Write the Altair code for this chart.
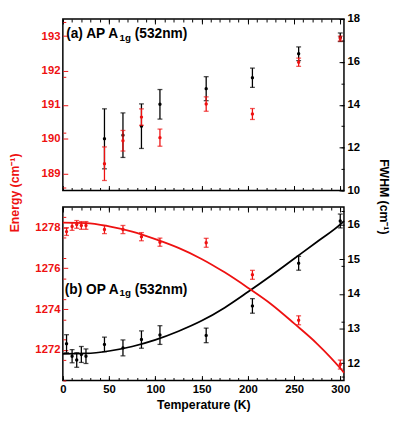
import altair as alt
import pandas as pd

RED = "#ee1111"
BLACK = "#000000"
FONT = "Liberation Sans"

# ---------------- data ----------------
# Panel (a): AP A1g (532nm)
T_a = [45, 65, 85, 105, 155, 205, 255, 300]
E_a = [189.28, 189.95, 190.64, 190.04, 191.02, 190.73, 192.24, 192.93]
E_a_err = [0.49, 0.30, 0.24, 0.25, 0.21, 0.16, 0.12, 0.07]
W_a = [12.41, 12.58, 13.00, 14.02, 14.75, 15.26, 16.38, 17.15]
W_a_err = [1.40, 1.04, 1.04, 0.69, 0.56, 0.45, 0.32, 0.20]

# Panel (b): OP A1g (532nm)
T_b = [4, 10, 15, 20, 25, 45, 65, 85, 105, 155, 205, 255, 300]
E_b = [1277.80, 1278.05, 1278.15, 1278.10, 1278.10, 1277.90, 1277.90,
       1277.55, 1277.28, 1277.25, 1275.68, 1273.45, 1271.28]
E_b_err = [0.19, 0.19, 0.19, 0.19, 0.19, 0.2, 0.2, 0.2, 0.2, 0.22, 0.22, 0.22, 0.22]
W_b = [12.56, 12.20, 12.09, 12.25, 12.20, 12.54, 12.44, 12.68, 12.81,
       12.80, 13.65, 14.88, 16.10]
W_b_err = [0.26, 0.19, 0.21, 0.23, 0.21, 0.21, 0.23, 0.25, 0.27, 0.21, 0.21, 0.20, 0.20]

# fitted curves of panel (b)
T_fit = [0, 25, 50, 75, 100, 125, 150, 175, 200, 225, 250, 275, 300, 304]
E_fit = [1278.24, 1278.22, 1278.06, 1277.80, 1277.43, 1277.00, 1276.46,
         1275.80, 1275.05, 1274.25, 1273.30, 1272.30, 1271.10, 1270.88]
W_fit = [12.27, 12.28, 12.35, 12.48, 12.67, 12.92, 13.22, 13.60, 14.05,
         14.52, 15.01, 15.50, 16.00, 16.10]

X_DOMAIN = [0, 304]
X_MAJOR = [0, 50, 100, 150, 200, 250, 300]
X_MINOR = list(range(0, 305, 10))

A_E_DOMAIN = [188.5, 193.5]
A_E_MAJOR = [189, 190, 191, 192, 193]
A_W_DOMAIN = [10, 18]
A_W_MAJOR = [10, 12, 14, 16, 18]

B_E_DOMAIN = [1270.5, 1279.0]
B_E_MAJOR = [1272, 1274, 1276, 1278]
B_W_DOMAIN = [11.5, 16.5]
B_W_MAJOR = [12, 13, 14, 15, 16]


def steps(lo, hi, step):
    n = int(round((hi - lo) / step))
    return [round(lo + i * step, 3) for i in range(n + 1)]


A_E_MINOR = steps(188.6, 193.4, 0.2)
A_W_MINOR = steps(10, 18, 0.5)
B_E_MINOR = steps(1270.5, 1279.0, 0.5)
B_W_MINOR = steps(11.6, 16.4, 0.2)

XS = alt.Scale(domain=X_DOMAIN, nice=False, zero=False)
LABEL_SIZE = 11.5


def ys(dom):
    return alt.Scale(domain=dom, nice=False, zero=False)


def xenc():
    return alt.X("T:Q", scale=XS, axis=None)


def err_layers(T, V, Verr, dom, color):
    df = pd.DataFrame({"T": T, "v": V,
                       "lo": [a - b for a, b in zip(V, Verr)],
                       "hi": [a + b for a, b in zip(V, Verr)]})
    base = alt.Chart(df)
    rule = base.mark_rule(color=color, strokeWidth=1.3).encode(
        x=xenc(), y=alt.Y("lo:Q", scale=ys(dom), axis=None), y2="hi:Q")
    caplo = base.mark_tick(color=color, orient="horizontal", size=5, thickness=1.3).encode(
        x=xenc(), y=alt.Y("lo:Q", scale=ys(dom), axis=None))
    caphi = base.mark_tick(color=color, orient="horizontal", size=5, thickness=1.3).encode(
        x=xenc(), y=alt.Y("hi:Q", scale=ys(dom), axis=None))
    pts = base.mark_circle(color=color, size=12, opacity=1).encode(
        x=xenc(), y=alt.Y("v:Q", scale=ys(dom), axis=None))
    return [rule, caplo, caphi, pts]


def fit_layer(T, V, dom, color):
    df = pd.DataFrame({"T": T, "v": V})
    return alt.Chart(df).mark_line(color=color, strokeWidth=1.8, interpolate="monotone").encode(
        x=xenc(), y=alt.Y("v:Q", scale=ys(dom), axis=None))


def x_axis_layer(orient, values, size, labels, dom, title=None):
    kw = dict(orient=orient, values=values, tickSize=size, offset=-size, domain=False,
              grid=False, labels=labels, ticks=True, tickColor=BLACK, tickWidth=1,
              labelFlush=False, labelFont=FONT, labelFontWeight="bold",
              labelFontSize=LABEL_SIZE, labelColor=BLACK, labelPadding=3, format="d")
    if title:
        kw.update(title=title, titleFont=FONT, titleFontWeight="bold", titleFontSize=12.5,
                  titleColor=BLACK, titlePadding=4)
    else:
        kw.update(title=None)
    df = pd.DataFrame({"T": [X_DOMAIN[0]], "v": [dom[0]]})
    return alt.Chart(df).mark_point(opacity=0).encode(
        x=alt.X("T:Q", scale=XS, axis=alt.Axis(**kw)),
        y=alt.Y("v:Q", scale=ys(dom), axis=None))


def y_axis_layer(orient, dom, values, size, labels, color, title=None, tx=None, ty=None, angle=None):
    kw = dict(orient=orient, values=values, tickSize=size, offset=-size, domain=False,
              grid=False, labels=labels, ticks=True, tickColor=color, tickWidth=1,
              labelFlush=False, labelFont=FONT, labelFontWeight="bold",
              labelFontSize=LABEL_SIZE, labelColor=color, labelPadding=3, format="d")
    if title:
        kw.update(title=title, titleFont=FONT, titleFontWeight="bold", titleFontSize=12.5,
                  titleColor=color, titleX=tx, titleY=ty, titleAngle=angle,
                  titleAlign="center", titleBaseline="bottom")
    else:
        kw.update(title=None)
    df = pd.DataFrame({"T": [X_DOMAIN[0]], "v": [dom[0]]})
    return alt.Chart(df).mark_point(opacity=0).encode(
        x=xenc(),
        y=alt.Y("v:Q", scale=ys(dom), axis=alt.Axis(**kw)))


def label_layers(tpos, vpos, dom, main, sub, rest, main_w):
    df = pd.DataFrame({"T": [tpos], "v": [vpos]})
    base = alt.Chart(df)
    common = dict(align="left", baseline="middle", font=FONT, fontWeight="bold", color=BLACK)
    y = alt.Y("v:Q", scale=ys(dom), axis=None)
    t1 = base.mark_text(text=main, fontSize=14, **common).encode(x=xenc(), y=y)
    t2 = base.mark_text(text=sub, fontSize=10, dx=main_w, dy=3.5, **common).encode(x=xenc(), y=y)
    t3 = base.mark_text(text=rest, fontSize=14, dx=main_w + 11.7 + 3.9, **common).encode(x=xenc(), y=y)
    return [t1, t2, t3]


def panel(T, E, Ee, W, We, edom, emaj, emin, wdom, wmaj, wmin, labels_spec,
          bottom_labels, fits=None, titles=False, height=178):
    layers = []
    layers += err_layers(T, W, We, wdom, BLACK)
    layers += err_layers(T, E, Ee, edom, RED)
    if fits is not None:
        layers.append(fit_layer(fits[0], fits[2], wdom, BLACK))
        layers.append(fit_layer(fits[0], fits[1], edom, RED))
    # x axes (inward ticks, all four sides)
    layers.append(x_axis_layer("bottom", X_MAJOR, 5, bottom_labels, edom,
                               "Temperature (K)" if bottom_labels else None))
    layers.append(x_axis_layer("bottom", X_MINOR, 3, False, edom))
    layers.append(x_axis_layer("top", X_MAJOR, 5, False, edom))
    layers.append(x_axis_layer("top", X_MINOR, 3, False, edom))
    # y axes
    if titles:
        layers.append(y_axis_layer("left", edom, emaj, 5, True, RED,
                                   "Energy (cm⁻¹)", -47, 177, 270))
        layers.append(y_axis_layer("right", wdom, wmaj, 5, True, BLACK,
                                   "FWHM (cm⁻¹)", 38, 181, 90))
    else:
        layers.append(y_axis_layer("left", edom, emaj, 5, True, RED))
        layers.append(y_axis_layer("right", wdom, wmaj, 5, True, BLACK))
    layers.append(y_axis_layer("left", edom, emin, 3, False, RED))
    layers.append(y_axis_layer("right", wdom, wmin, 3, False, BLACK))
    layers += label_layers(*labels_spec)
    return (alt.layer(*layers)
            .resolve_scale(y="independent")
            .resolve_axis(x="independent", y="independent")
            .properties(width=287, height=height))


top = panel(T_a, E_a, E_a_err, W_a, W_a_err, A_E_DOMAIN, A_E_MAJOR, A_E_MINOR,
            A_W_DOMAIN, A_W_MAJOR, A_W_MINOR,
            (3.6, 193.05, A_E_DOMAIN, "(a) AP A", "1g", "(532nm)", 54.4),
            bottom_labels=False, titles=True, height=175)

bottom = panel(T_b, E_b, E_b_err, W_b, W_b_err, B_E_DOMAIN, B_E_MAJOR, B_E_MINOR,
               B_W_DOMAIN, B_W_MAJOR, B_W_MINOR,
               (2.0, 1274.95, B_E_DOMAIN, "(b) OP A", "1g", "(532nm)", 56.0),
               bottom_labels=True, fits=(T_fit, E_fit, W_fit), height=177)

chart = (alt.vconcat(top, bottom, spacing=17, bounds="flush")
         .configure_view(stroke=BLACK, strokeWidth=1.5)
         .properties(padding={"left": 0, "top": 0, "right": 0, "bottom": 0},
                     background="white"))

chart.save("out.html", embed_options={"renderer": "svg", "actions": False})
